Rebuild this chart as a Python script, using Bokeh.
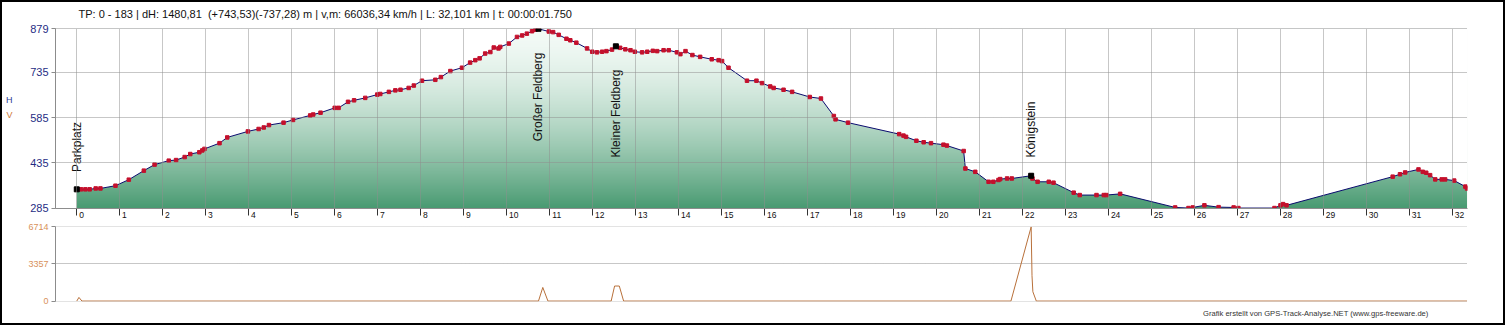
import numpy as np
from bokeh.plotting import figure
from bokeh.models import FixedTicker, Label, Range1d, LinearAxis, Title
from bokeh.layouts import column
from bokeh.embed import file_html
from bokeh.resources import INLINE

# ---------------- data ----------------
km = [0.00, 0.10, 0.20, 0.30, 0.44, 0.55, 0.90, 1.21, 1.56, 1.81, 2.14, 2.31, 2.51, 2.64,
      2.85, 2.92, 2.97, 3.32, 3.50, 3.98, 4.23, 4.35, 4.47, 4.81, 5.03, 5.43, 5.50, 5.67,
      6.00, 6.09, 6.31, 6.45, 6.71, 6.99, 7.06, 7.26, 7.41, 7.53, 7.72, 7.84, 8.03, 8.34,
      8.47, 8.69, 8.96, 9.15, 9.27, 9.37, 9.50, 9.62, 9.70, 9.81, 9.85, 10.05, 10.24, 10.36,
      10.47, 10.59, 10.67, 10.74, 10.98, 11.08, 11.21, 11.39, 11.48, 11.62, 11.87, 11.99,
      12.10, 12.22, 12.32, 12.45, 12.54, 12.64, 12.76, 12.88, 12.98, 13.15, 13.27, 13.40,
      13.50, 13.65, 13.77, 13.96, 14.04, 14.16, 14.32, 14.50, 14.77, 14.93, 15.01, 15.16,
      15.59, 15.81, 15.94, 16.13, 16.21, 16.44, 16.64, 17.05, 17.31, 17.61, 17.65, 17.94,
      19.13, 19.23, 19.29, 19.53, 19.70, 19.87, 20.16, 20.24, 20.63, 20.67, 20.90, 21.21,
      21.32, 21.44, 21.48, 21.64, 21.75, 22.20, 22.23, 22.35, 22.61, 22.72, 23.19, 23.33,
      23.72, 23.89, 23.95, 24.27, 25.55, 25.86, 25.96, 26.23, 26.56, 26.91, 27.02, 27.86,
      28.00, 28.06, 28.14, 30.61, 30.78, 30.90, 31.21, 31.31, 31.39, 31.48, 31.60, 31.75,
      31.83, 32.04, 32.30, 32.34]
elev = [347, 347, 347, 347, 350, 350, 359, 379, 409, 429, 442, 444, 454, 464,
        470, 476, 481, 500, 519, 539, 547, 552, 560, 568, 577, 592, 595, 601,
        617, 617, 637, 642, 650, 661, 663, 670, 675, 677, 683, 691, 707, 710,
        719, 739, 750, 767, 775, 781, 797, 802, 817, 814, 819, 830, 852, 857,
        863, 871, 876, 879, 870, 868, 859, 846, 841, 833, 814, 803,
        801, 803, 805, 810, 821, 816, 811, 808, 803, 801, 803, 806,
        805, 808, 808, 801, 795, 805, 792, 786, 778, 775, 772, 750,
        707, 707, 699, 688, 683, 677, 670, 653, 648, 590, 579, 568,
        530, 525, 521, 508, 503, 500, 495, 492, 474, 416, 405, 372,
        372, 378, 381, 383, 383, 392, 383, 372, 372, 369, 336, 328,
        328, 328, 328, 332, 287, 285, 287, 294, 288, 287, 285, 285,
        294, 298, 294, 389, 397, 403, 413, 405, 402, 394, 380, 380,
        380, 376, 356, 350]

wp_names = ["Parkplatz", "Großer Feldberg", "Kleiner Feldberg", "Königstein"]
wp_km = [0.00, 10.74, 12.54, 22.20]
wp_elev = [347, 879, 821, 392]

speed_km = [0.00, 0.05, 0.12, 10.74, 10.84, 10.96, 12.43, 12.51, 12.62, 12.72,
            21.73, 22.20, 22.22, 22.24, 22.32, 32.34]
speed = [0, 330, 0, 0, 1234, 0, 0, 1361, 1361, 0,
         0, 6714, 2295, 844, 0, 0]

elev_ticks = [285, 435, 585, 735, 879]
speed_ticks = [0, 3357, 6714]
km_ticks = list(range(0, 33))
km_tick_labels = [str(k) for k in km_ticks]

title_text = "TP: 0 - 183 | dH: 1480,81\u00a0 (+743,53)(-737,28) m | v,m: 66036,34 km/h | L: 32,101 km | t: 00:00:01.750"
credit_text = "Grafik erstellt von GPS-Track-Analyse.NET (www.gps-freeware.de)"
series_letters = ["H", "V"]

# ---------------- layout constants ----------------
FONT = "Liberation Sans"
X0, X1 = -0.495, 32.35
Y0, Y1 = 283.5, 880
F1_TOP, F1_BOT = 28, 210
PX_M = (F1_BOT - F1_TOP) / (Y1 - Y0)
S0, S1 = -40, 6750


def ey(py):
    return Y0 + (F1_BOT - py) / PX_M


GRID = "#8e8e8e"
AXIS = "#8c8c8c"
NBSP = "\u00a0"

# ---------------- main elevation plot ----------------
p1 = figure(width=1501, height=220, x_range=Range1d(X0, X1), y_range=Range1d(Y0, Y1),
            output_backend="svg", toolbar_location=None,
            min_border_left=53, min_border_right=36, min_border_top=26, min_border_bottom=12)
p1.outline_line_color = None
p1.background_fill_color = "white"
p1.border_fill_color = "white"

# vertical gradient under the profile: gradient image, white mask above the profile
n_rows = 240
top_rgb = np.array([0xF3, 0xFA, 0xF6], dtype=float)
bot_rgb = np.array([0x48, 0x9a, 0x71], dtype=float)
t = 1.0 - (np.arange(n_rows) + 0.5) / n_rows          # 0 at top, 1 at bottom
f = t ** 1.6
rgb = top_rgb[None, :] + (bot_rgb - top_rgb)[None, :] * f[:, None]
img = np.empty((n_rows, 2), dtype=np.uint32)
view = img.view(dtype=np.uint8).reshape((n_rows, 2, 4))
for j in range(2):
    view[:, j, 0] = np.round(rgb[:, 0]).astype(np.uint8)
    view[:, j, 1] = np.round(rgb[:, 1]).astype(np.uint8)
    view[:, j, 2] = np.round(rgb[:, 2]).astype(np.uint8)
    view[:, j, 3] = 255
p1.image_rgba(image=[img], x=km[0], y=Y0, dw=km[-1] - km[0], dh=Y1 - Y0)
p1.varea(x=km, y1=elev, y2=[Y1] * len(km), fill_color="white", fill_alpha=1.0)

p1.line(km, elev, line_color="#0a0a6e", line_width=1)
p1.scatter(km, elev, marker="square", size=3.5, fill_color="#c4102c", line_color="#c4102c")
p1.scatter(wp_km, wp_elev, marker="square", size=5, fill_color="black", line_color="black")

# x axis: tick marks with labels placed to the right of the marks
p1.xaxis.ticker = FixedTicker(ticks=km_ticks)
p1.xaxis.major_label_overrides = {k: NBSP * (2 * len(s) + 2) + s
                                  for k, s in zip(km_ticks, km_tick_labels)}
p1.xaxis.major_label_text_font = FONT
p1.xaxis.major_label_text_font_size = "8.5px"
p1.xaxis.major_label_text_color = "#111111"
p1.xaxis.major_label_standoff = -6
p1.xaxis.major_tick_out = 7
p1.xaxis.major_tick_in = 0
p1.xaxis.minor_tick_out = 0
p1.xaxis.minor_tick_line_color = None
p1.xaxis.axis_line_color = AXIS
p1.xaxis.major_tick_line_color = "#333333"

p1.yaxis.ticker = FixedTicker(ticks=elev_ticks)
p1.yaxis.major_label_text_font = FONT
p1.yaxis.major_label_text_font_size = "11px"
p1.yaxis.major_label_text_color = "#1f2d84"
p1.yaxis.major_label_standoff = 3
p1.yaxis.major_tick_out = 4
p1.yaxis.major_tick_in = 0
p1.yaxis.minor_tick_out = 0
p1.yaxis.minor_tick_line_color = None
p1.yaxis.axis_line_color = AXIS
p1.yaxis.major_tick_line_color = AXIS

# H / V series letters as extra left axes (V nearer the frame, H outermost)
letter_pos = [round(ey(100)), round(ey(116))]
letter_cols = ["#2a3a94", "#d07a3a"]
letter_standoff = [-9, 15]
for name, pos, col, so in zip(series_letters[::-1], letter_pos[::-1], letter_cols[::-1],
                              letter_standoff[::-1]):
    ax = LinearAxis(ticker=FixedTicker(ticks=[pos]), major_label_overrides={pos: name})
    ax.axis_line_color = None
    ax.major_tick_line_color = None
    ax.minor_tick_line_color = None
    ax.major_tick_out = 0
    ax.major_tick_in = 0
    ax.minor_tick_out = 0
    ax.minor_tick_in = 0
    ax.major_label_standoff = so
    ax.major_label_text_font = FONT
    ax.major_label_text_font_size = "9px"
    ax.major_label_text_color = col
    p1.add_layout(ax, "left")

p1.xgrid.ticker = FixedTicker(ticks=km_ticks)
p1.ygrid.ticker = FixedTicker(ticks=elev_ticks)
p1.grid.grid_line_color = GRID
p1.grid.grid_line_dash = "1 1"
p1.grid.level = "overlay"

# waypoint labels (rotated)
wp_label_base = [ey(173), ey(142), ey(158.5), ey(158.5)]
for name, x, yb in zip(wp_names, wp_km, wp_label_base):
    p1.add_layout(Label(x=x, y=yb, text=name, angle=90, angle_units="deg",
                        text_font=FONT, text_font_size="12px", text_color="#111111",
                        text_align="left", text_baseline="middle"))

# small spacer panel between frame and title, so the title sits higher
spacer = Title(text=NBSP, text_font=FONT, text_font_size="6px", standoff=0,
               text_line_height=1.0, text_color="white")
p1.add_layout(spacer, "above")

p1.title.text = title_text
p1.title.text_font = FONT
p1.title.text_font_size = "11px"
p1.title.text_font_style = "normal"
p1.title.text_color = "#111111"
p1.title.align = "left"
p1.title.offset = 23
p1.title.standoff = 0
p1.title.text_line_height = 1.8
p1.title.vertical_align = "middle"

# ---------------- speed plot ----------------
p2 = figure(width=1501, height=101, x_range=p1.x_range, y_range=Range1d(S0, S1),
            output_backend="svg", toolbar_location=None, x_axis_location=None,
            min_border_left=53, min_border_right=36, min_border_top=4, min_border_bottom=22)
p2.outline_line_color = None
p2.background_fill_color = "white"
p2.border_fill_color = "white"
p2.xgrid.visible = False
p2.ygrid.ticker = FixedTicker(ticks=speed_ticks)
p2.ygrid.grid_line_color = GRID
p2.ygrid.grid_line_dash = "1 1"

p2.line(speed_km, speed, line_color="#b8703a", line_width=1)

p2.yaxis.ticker = FixedTicker(ticks=speed_ticks)
p2.yaxis.major_label_text_font = FONT
p2.yaxis.major_label_text_font_size = "9px"
p2.yaxis.major_label_text_color = "#d8915a"
p2.yaxis.major_label_standoff = 3
p2.yaxis.major_tick_out = 4
p2.yaxis.major_tick_in = 0
p2.yaxis.minor_tick_out = 0
p2.yaxis.minor_tick_line_color = None
p2.yaxis.axis_line_color = AXIS
p2.yaxis.major_tick_line_color = AXIS

credit = Title(text=credit_text, align="right", offset=39, text_font=FONT,
               text_font_size="7.6px", text_font_style="normal", text_color="#333333",
               text_line_height=1.3)
p2.add_layout(credit, "below")

layout = column(p1, p2, spacing=0, styles={"border": "2px solid black"})

open("out.html", "w").write(file_html(layout, INLINE))
